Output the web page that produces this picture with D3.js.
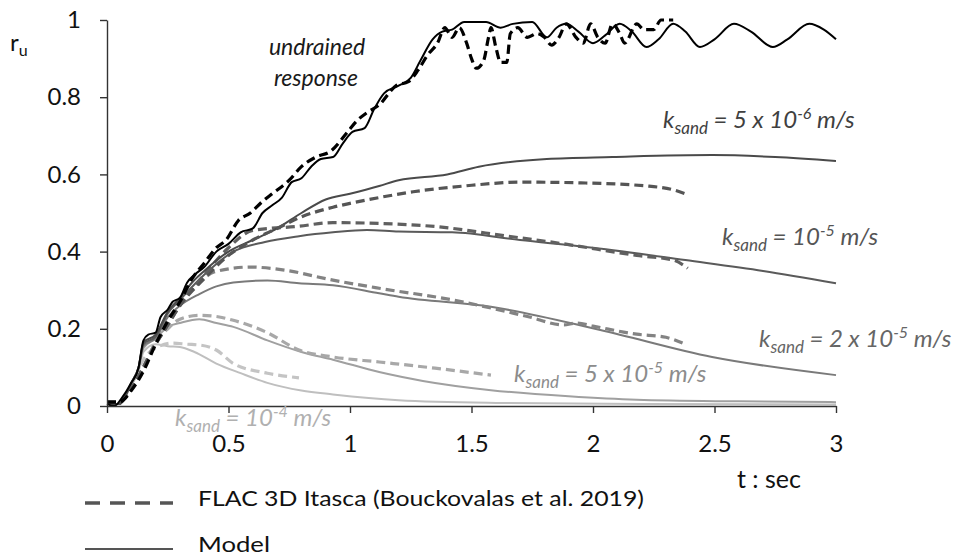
<!DOCTYPE html>
<html>
<head>
<meta charset="utf-8">
<script src="https://cdn.jsdelivr.net/npm/d3@7"></script>
<style>
  body { margin: 0; background: #fff; }
  svg { font-family: Lato, "Open Sans", sans-serif; }
</style>
</head>
<body>
<svg id="chart" width="953" height="559"></svg>
<script>
// Tick values
const xTicks = [0, 0.5, 1, 1.5, 2, 2.5, 3];
const yTicks = [0, 0.2, 0.4, 0.6, 0.8, 1];

// Series: [t (sec), r_u]
const undrainedModel = [[0,0.005],[0.03,0],[0.06,0.02],[0.1,0.06],[0.13,0.1],[0.15,0.17],[0.17,0.185],[0.2,0.19],[0.22,0.23],[0.25,0.25],[0.27,0.27],[0.3,0.28],[0.33,0.32],[0.36,0.34],[0.4,0.36],[0.45,0.4],[0.5,0.42],[0.55,0.45],[0.6,0.46],[0.64,0.5],[0.68,0.52],[0.72,0.54],[0.76,0.58],[0.8,0.59],[0.84,0.62],[0.88,0.64],[0.93,0.645],[0.97,0.68],[1.01,0.71],[1.06,0.72],[1.1,0.77],[1.14,0.81],[1.2,0.83],[1.25,0.85],[1.29,0.895],[1.34,0.95],[1.38,0.97],[1.42,0.975],[1.47,0.995],[1.56,0.995],[1.62,0.98],[1.67,0.99],[1.75,0.995],[1.81,0.955],[1.85,0.98],[1.89,0.99],[1.94,0.97],[2.0,0.94],[2.05,0.96],[2.11,0.99],[2.16,0.97],[2.22,0.93],[2.27,0.95],[2.33,0.99],[2.38,0.97],[2.44,0.93],[2.5,0.95],[2.58,0.99],[2.65,0.97],[2.74,0.93],[2.8,0.95],[2.89,0.99],[2.95,0.975],[3.0,0.95]];
const undrainedFlac = [[0,0.01],[0.05,0.01],[0.1,0.04],[0.15,0.09],[0.2,0.16],[0.25,0.22],[0.3,0.27],[0.35,0.33],[0.4,0.37],[0.45,0.41],[0.49,0.43],[0.54,0.48],[0.59,0.5],[0.64,0.53],[0.68,0.55],[0.75,0.585],[0.8,0.62],[0.86,0.645],[0.92,0.66],[0.99,0.71],[1.03,0.74],[1.07,0.76],[1.12,0.78],[1.19,0.83],[1.24,0.84],[1.28,0.87],[1.32,0.91],[1.36,0.94],[1.39,0.98],[1.42,0.955],[1.45,0.98],[1.48,0.94],[1.5,0.9],[1.52,0.875],[1.55,0.895],[1.57,0.955],[1.58,0.98],[1.6,0.93],[1.62,0.89],[1.645,0.89],[1.66,0.965],[1.69,0.98],[1.73,0.955],[1.77,0.965],[1.8,0.955],[1.83,0.935],[1.86,0.955],[1.89,0.99],[1.93,0.955],[1.96,0.94],[1.99,0.99],[2.02,0.955],[2.05,0.94],[2.08,0.99],[2.11,0.965],[2.13,0.94],[2.18,0.99],[2.21,0.975],[2.25,0.975],[2.28,1.0],[2.33,1.0]];

const k5e6Model = [[0,0.005],[0.05,0.005],[0.1,0.06],[0.13,0.1],[0.15,0.165],[0.2,0.185],[0.25,0.245],[0.3,0.28],[0.35,0.32],[0.4,0.35],[0.5,0.4],[0.6,0.43],[0.7,0.46],[0.8,0.5],[0.9,0.535],[1.0,0.55],[1.12,0.57],[1.2,0.585],[1.4,0.6],[1.53,0.62],[1.81,0.64],[2.08,0.645],[2.49,0.65],[2.75,0.645],[3.0,0.635]];
const k5e6Flac = [[0,0.01],[0.05,0.01],[0.1,0.045],[0.15,0.1],[0.2,0.16],[0.25,0.21],[0.3,0.26],[0.4,0.33],[0.5,0.39],[0.6,0.43],[0.7,0.46],[0.8,0.49],[0.93,0.515],[1.0,0.525],[1.12,0.54],[1.26,0.555],[1.47,0.57],[1.71,0.58],[1.95,0.578],[2.22,0.57],[2.33,0.56],[2.38,0.55]];

const k1e5Model = [[0,0.005],[0.05,0.005],[0.1,0.06],[0.13,0.1],[0.15,0.16],[0.2,0.18],[0.25,0.24],[0.3,0.275],[0.4,0.34],[0.52,0.4],[0.65,0.425],[0.79,0.44],[0.93,0.45],[1.07,0.456],[1.2,0.452],[1.42,0.45],[1.7,0.43],[2.0,0.41],[2.38,0.378],[2.7,0.35],[3.0,0.318]];
const k1e5Flac = [[0,0.01],[0.05,0.01],[0.1,0.045],[0.15,0.1],[0.2,0.16],[0.25,0.21],[0.3,0.26],[0.4,0.34],[0.5,0.41],[0.6,0.455],[0.78,0.465],[0.93,0.475],[1.12,0.473],[1.35,0.465],[1.65,0.44],[1.88,0.42],[2.18,0.39],[2.33,0.378],[2.39,0.357]];

const k2e5Model = [[0,0.005],[0.05,0.005],[0.1,0.06],[0.13,0.1],[0.15,0.155],[0.2,0.175],[0.25,0.23],[0.3,0.26],[0.38,0.29],[0.45,0.31],[0.52,0.32],[0.66,0.325],[0.79,0.318],[0.93,0.313],[1.12,0.292],[1.2,0.283],[1.58,0.257],[2.03,0.197],[2.49,0.127],[3.0,0.08]];
const k2e5Flac = [[0,0.01],[0.05,0.01],[0.1,0.045],[0.15,0.1],[0.2,0.165],[0.25,0.22],[0.3,0.27],[0.38,0.32],[0.44,0.347],[0.59,0.36],[0.73,0.352],[0.93,0.326],[1.12,0.305],[1.42,0.275],[1.73,0.232],[1.88,0.21],[1.93,0.215],[2.0,0.207],[2.18,0.186],[2.3,0.178],[2.38,0.16]];

const k5e5Model = [[0,0.005],[0.05,0.005],[0.1,0.055],[0.13,0.095],[0.15,0.15],[0.2,0.175],[0.25,0.205],[0.3,0.215],[0.38,0.225],[0.45,0.215],[0.52,0.205],[0.66,0.17],[0.8,0.14],[0.93,0.12],[1.12,0.088],[1.3,0.065],[1.58,0.041],[1.9,0.025],[2.18,0.016],[2.6,0.012],[3.0,0.01]];
const k5e5Flac = [[0,0.01],[0.05,0.01],[0.1,0.045],[0.15,0.1],[0.2,0.165],[0.25,0.2],[0.3,0.225],[0.38,0.235],[0.45,0.232],[0.52,0.222],[0.66,0.19],[0.79,0.145],[0.93,0.127],[1.12,0.114],[1.35,0.098],[1.58,0.08]];

const k1e4Model = [[0,0.005],[0.05,0.005],[0.1,0.055],[0.13,0.09],[0.15,0.14],[0.2,0.16],[0.25,0.155],[0.3,0.153],[0.36,0.14],[0.45,0.11],[0.55,0.085],[0.66,0.06],[0.8,0.04],[0.93,0.03],[1.2,0.015],[1.6,0.008],[2.2,0.005],[3.0,0.004]];
const k1e4Flac = [[0,0.01],[0.05,0.01],[0.1,0.045],[0.15,0.12],[0.2,0.15],[0.27,0.163],[0.33,0.16],[0.38,0.158],[0.45,0.145],[0.52,0.11],[0.66,0.085],[0.79,0.073]];

const width = 953;
const height = 559;

const x = d3.scaleLinear().domain([0, 3]).range([107, 836]);
const y = d3.scaleLinear().domain([0, 1]).range([406, 20]);

const svg = d3.select("#chart");

// series drawn light to dark so black ends on top
const series = [
  { data: k1e4Model, color: "#bfbfbf", dash: null },
  { data: k1e4Flac, color: "#c4c4c4", dash: "9,5" },
  { data: k5e5Model, color: "#a0a0a0", dash: null },
  { data: k5e5Flac, color: "#a8a8a8", dash: "9,5" },
  { data: k2e5Model, color: "#7a7a7a", dash: null },
  { data: k2e5Flac, color: "#838383", dash: "9,5" },
  { data: k1e5Model, color: "#5a5a5a", dash: null },
  { data: k1e5Flac, color: "#606060", dash: "9,5" },
  { data: k5e6Model, color: "#4a4a4a", dash: null },
  { data: k5e6Flac, color: "#555555", dash: "9,5" },
  { data: undrainedFlac, color: "#000", dash: "9,5" },
  { data: undrainedModel, color: "#000", dash: null }
];

const line = d3.line()
    .x(d => x(d[0]))
    .y(d => y(d[1]))
    .curve(d3.curveMonotoneX);

svg.selectAll(".series")
    .data(series)
  .enter().append("path")
    .attr("class", "series")
    .attr("d", d => line(d.data))
    .attr("fill", "none")
    .attr("stroke", d => d.color)
    .attr("stroke-width", d => d.dash ? 3.2 : 2)
    .attr("stroke-dasharray", d => d.dash);

// Axes
const xAxis = svg.append("g")
    .attr("transform", `translate(0,${y(0)})`)
    .call(d3.axisBottom(x).tickValues(xTicks).tickSize(7).tickSizeOuter(0)
      .tickPadding(22).tickFormat(d3.format("~g")));

const yAxis = svg.append("g")
    .attr("transform", `translate(${x(0)},0)`)
    .call(d3.axisLeft(y).tickValues(yTicks).tickSize(7).tickSizeOuter(0)
      .tickPadding(19).tickFormat(d3.format("~g")));

[xAxis, yAxis].forEach(a => {
  a.select(".domain").attr("stroke", "#333").attr("stroke-width", 1.4);
  a.selectAll(".tick line").attr("stroke", "#333").attr("stroke-width", 1.4);
  a.selectAll(".tick text").attr("fill", "#111").style("font-size", "24px").style("font-family", "Lato, sans-serif");
});

// Axis titles
const ru = svg.append("text").attr("x", 10).attr("y", 51).attr("fill", "#111").style("font-size", "24px");
ru.append("tspan").text("r");
ru.append("tspan").attr("dy", 5).style("font-size", "16px").text("u");

svg.append("text")
    .attr("x", 769).attr("y", 488)
    .attr("text-anchor", "middle")
    .attr("fill", "#111")
    .style("font-size", "25px")
    .text("t : sec");

// undrained label
svg.append("text")
    .attr("x", 317).attr("y", 55)
    .attr("text-anchor", "middle")
    .attr("fill", "#1a1a1a")
    .style("font-size", "23px").style("font-style", "italic")
    .text("undrained");
svg.append("text")
    .attr("x", 316).attr("y", 86)
    .attr("text-anchor", "middle")
    .attr("fill", "#1a1a1a")
    .style("font-size", "23px").style("font-style", "italic")
    .text("response");

// permeability labels
const kLabels = [
  { x: 663, y: 128, pre: "5 x ", exp: "-6", color: "#404040" },
  { x: 722, y: 245, pre: "", exp: "-5", color: "#555" },
  { x: 759, y: 347, pre: "2 x ", exp: "-5", color: "#666" },
  { x: 514, y: 382, pre: "5 x ", exp: "-5", color: "#8c8c8c" },
  { x: 175, y: 426, pre: "", exp: "-4", color: "#b0b0b0" }
];

kLabels.forEach(k => {
  const t = svg.append("text")
      .attr("x", k.x).attr("y", k.y)
      .attr("fill", k.color)
      .style("font-size", "24px").style("font-style", "italic");
  t.append("tspan").text("k");
  t.append("tspan").attr("dy", 6).style("font-size", "17px").text("sand");
  t.append("tspan").attr("dy", -6).text(" = " + k.pre + "10");
  t.append("tspan").attr("dy", -9).style("font-size", "16px").text(k.exp);
  t.append("tspan").attr("dy", 9).text(" m/s");
});

// Legend
svg.append("line")
    .attr("x1", 85).attr("x2", 173).attr("y1", 503).attr("y2", 503)
    .attr("stroke", "#555").attr("stroke-width", 3.5)
    .attr("stroke-dasharray", "15,10");
svg.append("text")
    .attr("x", 198).attr("y", 506)
    .attr("fill", "#111").style("font-size", "22px")
    .attr("textLength", 446).attr("lengthAdjust", "spacingAndGlyphs")
    .text("FLAC 3D Itasca (Bouckovalas et al. 2019)");
svg.append("line")
    .attr("x1", 85).attr("x2", 173).attr("y1", 549).attr("y2", 549)
    .attr("stroke", "#555").attr("stroke-width", 2);
svg.append("text")
    .attr("x", 198).attr("y", 552)
    .attr("fill", "#111").style("font-size", "22px")
    .attr("textLength", 72).attr("lengthAdjust", "spacingAndGlyphs")
    .text("Model");
</script>
</body>
</html>
